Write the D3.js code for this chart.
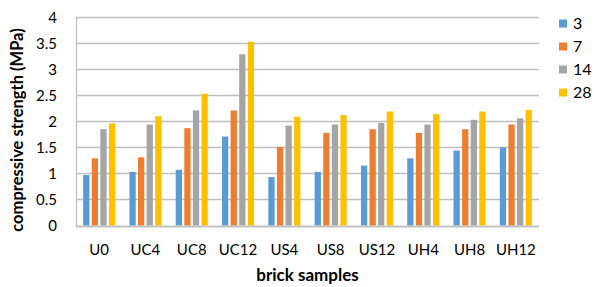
<!DOCTYPE html>
<html>
<head>
<meta charset="utf-8">
<script src="https://d3js.org/d3.v7.min.js"></script>
<style>
  body { margin: 0; background: #fff; }
  text { font-family: Lato, "Open Sans", sans-serif; fill: #000; }
</style>
</head>
<body>
<div id="chart"></div>
<script>
"use strict";
// brick samples on the x axis
var samples = ["U0", "UC4", "UC8", "UC12", "US4", "US8", "US12", "UH4", "UH8", "UH12"];
// curing ages (days) = series
var ages = ["3", "7", "14", "28"];
var day3  = [0.97, 1.03, 1.07, 1.71, 0.93, 1.03, 1.15, 1.29, 1.44, 1.50];
var day7  = [1.29, 1.31, 1.87, 2.21, 1.51, 1.78, 1.85, 1.78, 1.85, 1.94];
var day14 = [1.85, 1.94, 2.21, 3.29, 1.92, 1.94, 1.97, 1.94, 2.03, 2.06];
var day28 = [1.96, 2.10, 2.53, 3.53, 2.09, 2.12, 2.19, 2.14, 2.19, 2.22];
var yTicks = [0, 0.5, 1, 1.5, 2, 2.5, 3, 3.5, 4];
var colors = ["#5B9BD5", "#ED7D31", "#A5A5A5", "#FFC000"];

var series = [day3, day7, day14, day28];

var W = 594, H = 287;
var plotL = 76, plotR = 539, plotT = 17.3, plotB = 225.5;

var svg = d3.select("#chart").append("svg")
    .attr("width", W).attr("height", H);

var x0 = d3.scaleBand().domain(samples).range([plotL, plotR]);
var x1 = d3.scaleBand().domain(ages).range([0, x0.bandwidth()])
    .paddingInner(0.27).paddingOuter(0.83);
var y = d3.scaleLinear().domain([0, 4]).range([plotB, plotT]);

// gridlines
svg.selectAll("line.grid")
    .data(yTicks)
    .enter().append("line")
    .attr("x1", plotL).attr("x2", plotR)
    .attr("y1", function (d) { return Math.round(y(d)) + 0.5; })
    .attr("y2", function (d) { return Math.round(y(d)) + 0.5; })
    .attr("stroke", "#bfbfbf")
    .attr("stroke-width", 1.3);

// y axis line
svg.append("line")
    .attr("x1", plotL + 0.5).attr("x2", plotL + 0.5)
    .attr("y1", Math.round(plotT)).attr("y2", Math.round(plotB) + 1)
    .attr("stroke", "#bfbfbf").attr("stroke-width", 1.3);

// bars
var groups = svg.selectAll("g.sample")
    .data(samples)
    .enter().append("g")
    .attr("transform", function (d) { return "translate(" + x0(d) + ",0)"; });

groups.selectAll("rect")
    .data(function (d, i) {
        return ages.map(function (a, j) { return { age: a, value: series[j][i], k: j }; });
    })
    .enter().append("rect")
    .attr("x", function (d) { return x1(d.age); })
    .attr("width", x1.bandwidth())
    .attr("y", function (d) { return y(d.value); })
    .attr("height", function (d) { return y(0) - y(d.value); })
    .attr("fill", function (d) { return colors[d.k]; });

// bottom axis line drawn over the bars
svg.append("line")
    .attr("x1", plotL).attr("x2", plotR)
    .attr("y1", Math.round(plotB) + 0.5).attr("y2", Math.round(plotB) + 0.5)
    .attr("stroke", "#bfbfbf").attr("stroke-width", 1.3);

// y tick labels
svg.selectAll("text.ytick")
    .data(yTicks)
    .enter().append("text")
    .attr("x", 57)
    .attr("y", function (d) { return y(d); })
    .attr("dy", "0.35em")
    .attr("text-anchor", "end")
    .style("font-size", "15px")
    .text(function (d) { return d; });

// x tick labels
svg.selectAll("text.xtick")
    .data(samples)
    .enter().append("text")
    .attr("x", function (d) { return x0(d) + x0.bandwidth() / 2; })
    .attr("y", 255)
    .attr("text-anchor", "middle")
    .style("font-size", "15px")
    .text(function (d) { return d; });

// axis titles
svg.append("text")
    .attr("x", (plotL + plotR) / 2)
    .attr("y", 281)
    .attr("text-anchor", "middle")
    .style("font-size", "17px")
    .style("font-weight", "bold")
    .text("brick samples");

svg.append("text")
    .attr("transform", "translate(23,130) rotate(-90)")
    .attr("text-anchor", "middle")
    .style("font-size", "16.5px")
    .style("font-weight", "bold")
    .text("compressive strength (MPa)");

// legend
var legend = svg.selectAll("g.legend")
    .data(ages)
    .enter().append("g")
    .attr("transform", function (d, i) { return "translate(559," + (19.5 + i * 23) + ")"; });

legend.append("rect")
    .attr("width", 8).attr("height", 8)
    .attr("fill", function (d, i) { return colors[i]; });

legend.append("text")
    .attr("x", 14).attr("y", 9)
    .style("font-size", "16px")
    .text(function (d) { return d; });
</script>
</body>
</html>
